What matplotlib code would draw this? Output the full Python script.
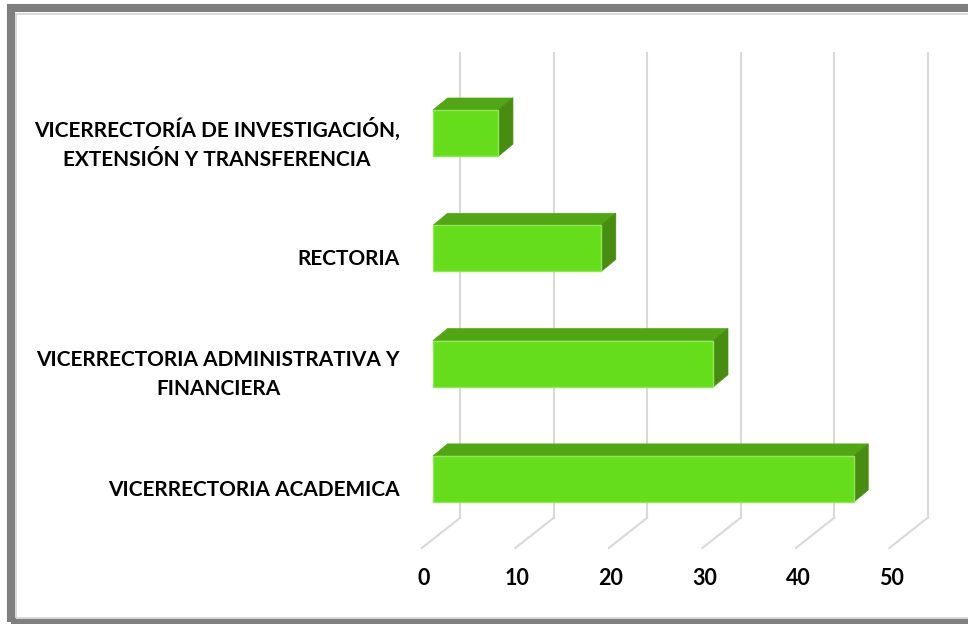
import numpy as np
import matplotlib
matplotlib.use("Agg")
import matplotlib.pyplot as plt
from matplotlib.patches import Polygon, Rectangle

# Data
categories = ["VICERRECTORIA ACADEMICA",
              "VICERRECTORIA ADMINISTRATIVA Y\nFINANCIERA",
              "RECTORIA",
              "VICERRECTORÍA DE INVESTIGACIÓN,\nEXTENSIÓN Y TRANSFERENCIA"]
values = [45, 30, 18, 7]
ticks = [0, 10, 20, 30, 40, 50]

# Colours
c_front = "#66dd1a"
c_top = "#52a514"
c_side = "#488c12"
c_edge = "#8fe85a"
c_grid = "#d9d9d9"

plt.rcParams['font.family'] = ['Lato', 'DejaVu Sans']

fig = plt.figure(figsize=(9.68, 6.24), dpi=100)
ax = fig.add_axes([0, 0, 1, 1])
ax.set_xlim(-46.31, 57.22)
ax.set_ylim(-1.258, 4.154)
ax.axis("off")

# 3D offsets (data units)
bar_h = 0.4
dx, dy = 1.55, 0.104          # bar depth
wall_dx = 2.89                # back wall offset from bar plane
floor_front_dx = -1.18
wall_bottom, wall_top, floor_front = -0.338, 3.695, -0.598

# Back wall gridlines and floor lines
for t in ticks:
    ax.plot([t + wall_dx, t + wall_dx], [wall_bottom, wall_top], color=c_grid, lw=1.5, zorder=1)
    ax.plot([t + wall_dx, t + floor_front_dx], [wall_bottom, floor_front], color=c_grid, lw=1.5, zorder=1)
    ax.text(t + floor_front_dx + 0.2, -0.865, str(t), ha="center", va="center",
            fontsize=15.5, fontweight="bold", color="black")

ypos = np.arange(len(categories))
ax.barh(ypos, values, height=bar_h, left=0, color=c_front, edgecolor=c_edge, lw=1, zorder=3)

for y, v in zip(ypos, values):
    top = y + bar_h / 2
    bot = y - bar_h / 2
    ax.add_patch(Polygon([(0, top), (v, top), (v + dx, top + dy), (dx, top + dy)],
                         closed=True, facecolor=c_top, edgecolor=c_top, lw=0.5, zorder=2))
    ax.add_patch(Polygon([(v, bot), (v, top), (v + dx, top + dy), (v + dx, bot + dy)],
                         closed=True, facecolor=c_side, edgecolor=c_side, lw=0.5, zorder=2))

# category labels sit a little below the bar centres, as in the source
for y, lab in zip(ypos, categories):
    ax.text(-3.53, y - 0.095, lab, ha="right", va="center", multialignment="center",
            fontsize=15, fontweight="bold", color="black", linespacing=1.6)

# Chart frame
fig.patches.append(Rectangle((11 / 968, 1 - 622 / 624), 980 / 968, 614 / 624,
                             transform=fig.transFigure, fill=False,
                             edgecolor="#7f7f7f", lw=5.8, zorder=10))
fig.patches.append(Rectangle((16 / 968, 1 - 617.5 / 624), 980 / 968, 604 / 624,
                             transform=fig.transFigure, fill=False,
                             edgecolor="#d9d9d9", lw=1.4, zorder=10))

fig.savefig("out.png", dpi=100, facecolor="white")
